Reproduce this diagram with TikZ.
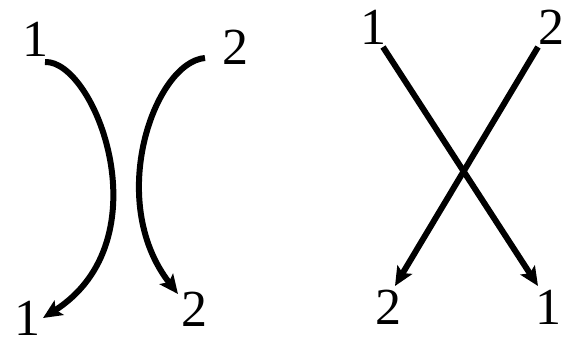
\documentclass[tikz,border=0pt]{standalone}
\usepackage{fontspec}
\setmainfont{Liberation Serif}
\usetikzlibrary{arrows.meta}
\begin{document}
\begin{tikzpicture}[x=1pt,y=-1pt,
  lbl/.style={inner sep=0pt,font=\fontsize{52}{52}\selectfont},
  arr/.style={line width=6pt,-{Stealth[length=19pt,width=17pt,inset=4pt]}}]
\useasboundingbox[fill=white] (0,0) rectangle (570,343);
% left diagram
\node[lbl] (la1) at (36,39.5) {1};
\node[lbl] (la2) at (235,47) {2};
\node[lbl] (lb1) at (27,318) {1};
\node[lbl] (lb2) at (194,309) {2};
\coordinate (s1) at (45,62);
\coordinate (e1) at (43,318);
\coordinate (s2) at (205,58);
\coordinate (e2) at (178,294);
\draw[arr] (s1) .. controls (95,60) and (165,240) .. (e1);
\draw[arr] (s2) .. controls (155,62) and (105,200) .. (e2);
% right diagram
\node[lbl] (ra1) at (373,27.5) {1};
\node[lbl] (ra2) at (551,27.5) {2};
\node[lbl] (rb2) at (388,307) {2};
\node[lbl] (rb1) at (548,307) {1};
\coordinate (t1) at (383,47);
\coordinate (f1) at (538,286);
\coordinate (t2) at (538,47);
\coordinate (f2) at (395,286);
\draw[arr] (t1) -- (f1);
\draw[arr] (t2) -- (f2);
\end{tikzpicture}
\end{document}
